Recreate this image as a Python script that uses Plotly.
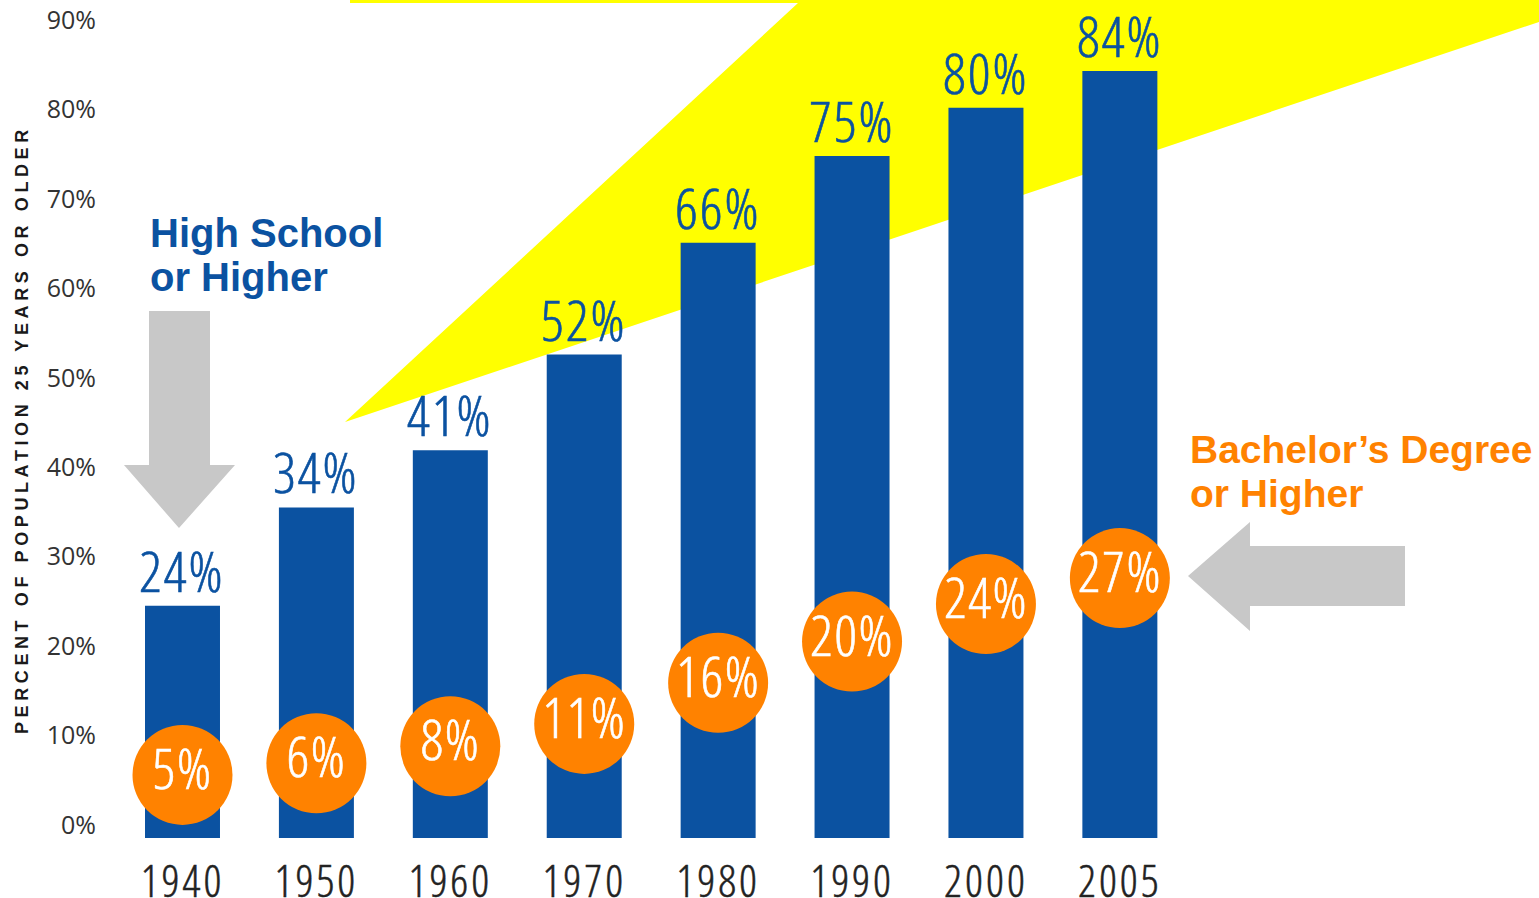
import plotly.graph_objects as go

# ---------------- data ----------------
years = ["1940", "1950", "1960", "1970", "1980", "1990", "2000", "2005"]
hs_values = [24.5, 35.5, 41.9, 52.6, 65.1, 74.8, 80.2, 84.3]          # bar tops as drawn
hs_labels = ["24%", "34%", "41%", "52%", "66%", "75%", "80%", "84%"]
ba_values = [5.6, 6.9, 8.8, 11.3, 15.9, 20.5, 24.7, 27.6]             # circle centres as drawn
ba_labels = ["5%", "6%", "8%", "11%", "16%", "20%", "24%", "27%"]
y_ticks = [0, 10, 20, 30, 40, 50, 60, 70, 80, 90]
y_ticktext = [f"{v}%" for v in y_ticks]

# ---------------- style ----------------
W, H = 1539, 898
ML, MR, MT, MB = 115, 0, 2, 46
PW, PH = W - ML - MR, H - MT - MB
BLUE = "#0B52A1"
ORANGE = "#FF8200"
YELLOW = "#FFFF00"
GREY = "#C8C8C8"
DARK = "#222222"
BOLD = "Liberation Sans, Arial, Helvetica, sans-serif"
NUM = "Open Sans, Roboto, sans-serif"
BAR_BASE = -1.45


def px(x):
    return (x - ML) / PW


def py(y):
    return (H - MB - y) / PH


def path(points):
    return "M " + " L ".join(f"{px(a):.5f},{py(b):.5f}" for a, b in points) + " Z"


def narrow(s, color, spacing=0, stroke=0.6):
    return (f'<span style="font-stretch:75%;font-weight:300;letter-spacing:{spacing}px;'
            f'stroke:{color};stroke-width:{stroke}px">{s}</span>')


fig = go.Figure()

fig.add_trace(go.Bar(
    x=list(range(len(years))), y=[v - BAR_BASE for v in hs_values], base=BAR_BASE,
    marker=dict(color=BLUE, line=dict(width=0)), width=0.56,
    hoverinfo="skip", showlegend=False,
))

fig.add_trace(go.Scatter(
    x=list(range(len(years))), y=ba_values, mode="markers+text",
    marker=dict(size=100, color=ORANGE, line=dict(width=0)),
    text=[narrow(t, "white", spacing=1.5) for t in ba_labels], textposition="middle center",
    textfont=dict(family=NUM, size=56, color="white"),
    hoverinfo="skip", showlegend=False,
))

annotations = []
for i, (v, lab) in enumerate(zip(hs_values, hs_labels)):
    annotations.append(dict(
        x=i, y=v, xref="x", yref="y", text=narrow(lab, BLUE, spacing=2), showarrow=False,
        yanchor="middle", yshift=36,
        font=dict(family=NUM, size=56, color=BLUE),
    ))

annotations += [
    dict(x=px(148), y=py(233), xref="paper", yref="paper", text="<b>High School</b>",
         showarrow=False, xanchor="left", yanchor="middle",
         font=dict(family=BOLD, size=40, color=BLUE)),
    dict(x=px(148), y=py(277), xref="paper", yref="paper", text="<b>or Higher</b>",
         showarrow=False, xanchor="left", yanchor="middle",
         font=dict(family=BOLD, size=40, color=BLUE)),
    dict(x=px(1188), y=py(449), xref="paper", yref="paper", text="<b>Bachelor’s Degree</b>",
         showarrow=False, xanchor="left", yanchor="middle",
         font=dict(family=BOLD, size=39, color=ORANGE)),
    dict(x=px(1188), y=py(493), xref="paper", yref="paper", text="<b>or Higher</b>",
         showarrow=False, xanchor="left", yanchor="middle",
         font=dict(family=BOLD, size=39, color=ORANGE)),
    dict(x=px(22), y=py(430), xref="paper", yref="paper",
         text='<span style="letter-spacing:4.6px"><b>PERCENT OF POPULATION 25 YEARS OR OLDER</b></span>',
         showarrow=False, textangle=-90, xanchor="center", yanchor="middle",
         font=dict(family=BOLD, size=18, color="#1a1a1a")),
]

shapes = [
    # yellow beam
    dict(type="path", xref="paper", yref="paper", layer="below", line=dict(width=0),
         fillcolor=YELLOW,
         path=path([(350, 0), (1539, 0), (1539, 22), (345, 422), (798, 3), (350, 3)])),
    # down arrow
    dict(type="path", xref="paper", yref="paper", layer="above", line=dict(width=0),
         fillcolor=GREY,
         path=path([(149, 311), (210, 311), (210, 465), (235, 465), (179, 528),
                    (124, 465), (149, 465)])),
    # left arrow
    dict(type="path", xref="paper", yref="paper", layer="above", line=dict(width=0),
         fillcolor=GREY,
         path=path([(1405, 546), (1405, 606), (1250, 606), (1250, 631), (1188, 576),
                    (1250, 522), (1250, 546)])),
]

fig.update_layout(
    width=W, height=H,
    margin=dict(l=ML, r=MR, t=MT, b=MB, pad=0, autoexpand=False),
    paper_bgcolor="white", plot_bgcolor="rgba(0,0,0,0)",
    annotations=annotations, shapes=shapes,
    xaxis=dict(range=[-0.504, 10.13], tickvals=list(range(len(years))),
               ticktext=[narrow(y, DARK, spacing=3, stroke=0.5) for y in years],
               showgrid=False, zeroline=False, showline=False, automargin=False,
               ticks="", tickfont=dict(family=NUM, size=44, color=DARK),
               fixedrange=True),
    yaxis=dict(range=[-3.02, 92.01], tickvals=y_ticks,
               ticktext=y_ticktext,
               showgrid=False, zeroline=False, showline=False, ticks="", automargin=False,
               ticklabelstandoff=18,
               tickfont=dict(family=NUM, size=25, color="#333333"),
               fixedrange=True),
)

fig.write_html("out.html", config={"displayModeBar": False},
               post_script="document.body.style.margin='0';")
